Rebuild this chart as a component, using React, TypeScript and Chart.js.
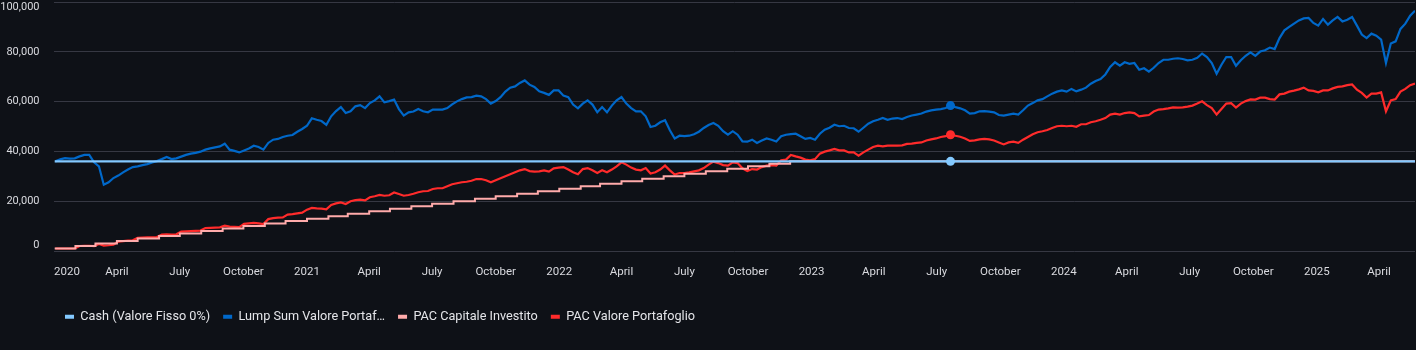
import { useEffect, useRef } from 'react';
import { Chart, registerables } from 'chart.js';

Chart.register(...registerables);

// Series names as shown in the legend
const SERIES_NAMES = [
  'Cash (Valore Fisso 0%)',
  'Lump Sum Valore Portaf…',
  'PAC Capitale Investito',
  'PAC Valore Portafoglio',
];
const SERIES_COLORS = ['#83c9ff', '#0068c9', '#ffabab', '#ff2b2b'];

// Weekly samples starting on this date (one value per week)
const WEEKLY_START = '2020-01-03';

// Lump Sum portfolio value, thousands of €
const LUMP_SUM_K = [
  36.0, 36.8, 37.3, 37.1, 37.2, 38.0, 38.6, 38.6, 35.6, 34.0, 26.6,
  27.6, 29.3, 30.3, 31.6, 32.7, 33.7, 34.0, 34.5, 34.9, 35.6,
  36.1, 36.9, 37.8, 36.9, 37.2, 37.9, 38.6, 39.1, 39.4, 39.9,
  40.7, 41.2, 41.6, 42.0, 43.1, 40.7, 40.2, 39.6, 40.4, 41.2,
  42.3, 41.8, 40.7, 43.4, 44.7, 45.0, 45.8, 46.3, 46.6, 47.9,
  49.0, 50.3, 53.3, 52.7, 52.2, 50.7, 54.1, 56.2, 57.8, 55.4,
  56.1, 58.1, 58.6, 57.4, 59.4, 60.5, 62.1, 59.7, 60.2, 60.8,
  57.0, 54.4, 55.7, 56.0, 57.0, 56.1, 55.7, 56.8, 56.8, 56.8,
  57.4, 58.9, 60.1, 61.0, 61.7, 61.8, 62.4, 62.1, 61.0, 59.2,
  60.2, 61.8, 64.0, 65.6, 66.1, 67.5, 68.5, 66.8, 65.9, 64.1,
  63.5, 62.7, 64.5, 64.5, 62.4, 61.8, 58.8, 57.3, 59.2, 60.5,
  58.8, 55.7, 57.8, 55.7, 58.4, 60.5, 61.8, 59.2, 57.4, 56.1,
  56.1, 54.1, 49.8, 50.3, 51.7, 52.5, 48.5, 45.2, 46.3, 46.1,
  46.3, 46.9, 47.9, 49.4, 50.6, 51.4, 50.3, 48.1, 46.7, 48.1,
  46.7, 44.0, 43.9, 44.7, 43.4, 44.4, 45.2, 44.7, 44.0, 46.1,
  46.7, 46.9, 47.1, 46.1, 45.0, 45.4, 44.7, 47.1, 48.7, 49.5,
  50.7, 50.1, 50.3, 49.4, 49.3, 47.9, 49.5, 51.1, 52.1, 52.7,
  53.4, 52.7, 53.2, 53.4, 53.0, 53.8, 54.4, 54.8, 55.2, 56.0,
  56.5, 56.8, 57.0, 57.4, 58.4, 57.8, 57.3, 56.5, 55.2, 55.4,
  56.1, 56.2, 56.0, 55.7, 54.6, 54.4, 54.8, 55.2, 54.8, 56.5,
  58.4, 59.4, 60.5, 61.0, 62.1, 63.2, 64.0, 64.5, 64.0, 65.1,
  64.1, 64.8, 65.6, 67.2, 68.3, 69.1, 70.9, 73.9, 75.8, 74.4,
  75.8, 75.2, 75.5, 72.8, 73.4, 72.0, 73.6, 75.5, 76.8, 76.8,
  77.2, 77.4, 77.1, 76.6, 76.8, 77.6, 79.3, 77.9, 75.5, 71.2,
  74.8, 77.9, 77.9, 74.4, 76.6, 78.4, 79.8, 78.4, 80.1, 80.6,
  81.7, 81.1, 85.5, 88.6, 90.0, 91.3, 92.6, 93.4, 93.6, 91.6,
  90.5, 93.2, 90.9, 92.6, 94.0, 92.2, 92.9, 94.0, 90.5, 86.9,
  85.5, 87.3, 86.5, 84.9, 75.5, 83.3, 84.2, 89.2, 91.3, 94.5, 96.5,
];

// PAC portfolio value, thousands of €
const PAC_VALUE_K = [
  1.0, 1.0, 1.0, 1.0, 1.0, 2.0, 2.1, 2.1, 2.0, 2.8, 2.2,
  2.3, 2.5, 3.8, 4.0, 4.2, 4.3, 5.3, 5.4, 5.5, 5.5,
  5.6, 6.6, 6.7, 6.6, 6.7, 7.8, 7.9, 8.0, 8.1, 8.2,
  9.2, 9.3, 9.4, 9.5, 10.2, 9.8, 9.7, 9.6, 10.9, 11.1,
  11.3, 11.1, 10.8, 12.8, 13.2, 13.4, 13.5, 14.6, 14.8, 15.1,
  15.4, 16.6, 17.3, 17.1, 17.0, 16.7, 18.5, 19.1, 19.5, 18.9,
  20.0, 20.4, 20.6, 20.3, 21.6, 22.0, 22.5, 22.2, 22.4, 23.5,
  22.9, 22.2, 22.5, 23.0, 23.6, 24.0, 24.1, 24.9, 25.2, 25.2,
  26.0, 26.8, 27.2, 27.6, 27.8, 28.2, 28.9, 28.9, 28.4, 27.6,
  28.4, 29.2, 30.0, 30.8, 31.6, 32.4, 32.9, 32.1, 31.9, 32.0,
  32.4, 31.9, 33.2, 33.5, 33.7, 32.7, 31.6, 30.8, 32.9, 33.3,
  32.4, 31.3, 32.4, 31.6, 32.7, 34.0, 35.6, 34.7, 33.5, 32.7,
  32.4, 33.3, 31.1, 31.6, 32.7, 34.3, 32.4, 30.7, 31.3, 31.3,
  31.6, 32.0, 32.4, 33.3, 34.7, 35.9, 35.3, 34.5, 34.3, 35.6,
  35.3, 33.2, 32.1, 32.9, 32.7, 33.7, 34.3, 34.5, 34.3, 36.4,
  36.7, 38.6, 38.0, 37.5, 36.7, 36.4, 36.9, 39.1, 39.9, 40.4,
  41.0, 40.4, 40.4, 39.6, 39.6, 38.3, 39.6, 40.7, 41.8, 42.3,
  42.0, 42.3, 42.3, 42.3, 42.4, 43.0, 43.1, 43.4, 43.6, 44.4,
  44.8, 45.2, 45.8, 46.1, 46.7, 46.3, 45.9, 45.2, 44.2, 44.4,
  44.8, 45.0, 44.8, 44.4, 43.6, 42.8, 43.6, 43.9, 43.4, 44.7,
  45.8, 46.9, 47.7, 48.1, 48.6, 49.4, 50.1, 50.3, 50.1, 50.3,
  49.9, 50.9, 50.9, 51.7, 52.1, 52.7, 53.4, 54.8, 55.2, 54.8,
  55.4, 55.7, 55.4, 54.1, 54.4, 54.6, 56.0, 56.8, 57.0, 57.3,
  57.7, 57.6, 57.7, 58.0, 58.4, 59.2, 60.1, 58.6, 57.4, 54.8,
  57.0, 59.2, 59.4, 57.6, 59.2, 60.2, 60.9, 60.8, 61.6, 61.6,
  61.0, 60.8, 62.9, 63.2, 64.0, 64.4, 64.9, 65.6, 64.5, 64.3,
  63.7, 64.5, 64.5, 65.3, 65.9, 66.1, 66.6, 66.9, 64.8, 63.5,
  61.6, 63.2, 63.2, 63.7, 56.1, 60.5, 61.0, 64.0, 65.1, 66.6, 67.2,
];

// PAC invested capital: monthly contributions (step line)
const PAC_DATES = [
  '2020-01-02', '2020-02-01', '2020-03-01', '2020-04-01', '2020-05-01', '2020-06-01',
  '2020-07-01', '2020-08-01', '2020-09-01', '2020-10-01', '2020-11-01', '2020-12-01',
  '2021-01-01', '2021-02-01', '2021-03-01', '2021-04-01', '2021-05-01', '2021-06-01',
  '2021-07-01', '2021-08-01', '2021-09-01', '2021-10-01', '2021-11-01', '2021-12-01',
  '2022-01-01', '2022-02-01', '2022-03-01', '2022-04-01', '2022-05-01', '2022-06-01',
  '2022-07-01', '2022-08-01', '2022-09-01', '2022-10-01', '2022-11-01', '2022-12-01',
  '2025-05-23',
];
const PAC_CAPITAL = [
  1000, 2000, 3000, 4000, 5000, 6000, 7000, 8000, 9000, 10000, 11000, 12000,
  13000, 14000, 15000, 16000, 17000, 18000, 19000, 20000, 21000, 22000, 23000, 24000,
  25000, 26000, 27000, 28000, 29000, 30000, 31000, 32000, 33000, 34000, 35000, 36000,
  36000,
];

// Cash held flat
const CASH_DATES = ['2020-01-02', '2023-07-21', '2025-05-23'];
const CASH_VALUES = [36000, 36000, 36000];

// Highlighted (hovered) date
const HOVER_DATE = '2023-07-21';

// Axis ticks
const X_MIN_DATE = '2020-01-01';
const X_MAX_DATE = '2025-05-23';
const X_TICK_DATES = [
  '2020-01-01', '2020-04-01', '2020-07-01', '2020-10-01',
  '2021-01-01', '2021-04-01', '2021-07-01', '2021-10-01',
  '2022-01-01', '2022-04-01', '2022-07-01', '2022-10-01',
  '2023-01-01', '2023-04-01', '2023-07-01', '2023-10-01',
  '2024-01-01', '2024-04-01', '2024-07-01', '2024-10-01',
  '2025-01-01', '2025-04-01',
];
const X_TICK_LABELS = [
  '2020', 'April', 'July', 'October',
  '2021', 'April', 'July', 'October',
  '2022', 'April', 'July', 'October',
  '2023', 'April', 'July', 'October',
  '2024', 'April', 'July', 'October',
  '2025', 'April',
];
const Y_TICKS = [0, 20000, 40000, 60000, 80000, 100000];

const DAY = 86400000;
const toT = (s: string) => Date.parse(s + 'T00:00:00Z');

export default function App() {
  const ref = useRef<HTMLCanvasElement | null>(null);

  useEffect(() => {
    const canvas = ref.current;
    if (!canvas) return;
    const start = toT(WEEKLY_START);
    const hoverT = toT(HOVER_DATE);
    const weekly = (arr: number[]) => arr.map((v, i) => ({ x: start + i * 7 * DAY, y: v * 1000 }));
    const xMin = toT(X_MIN_DATE);
    const xMax = toT(X_MAX_DATE);
    const tickVals = X_TICK_DATES.map(toT);
    const dummyTick = xMax - 25 * DAY;
    const labelMap = new Map<number, string>();
    tickVals.forEach((v, i) => labelMap.set(v, X_TICK_LABELS[i]));
    labelMap.set(dummyTick, '');

    const dotRadius = (ctx: any) => (ctx.raw && ctx.raw.x === hoverT ? 4.5 : 0);
    const font = 'Roboto, "Noto Sans", sans-serif';
    const textColor = '#d9dadf';

    const legendShift = {
      id: 'legendShift',
      afterLayout(chart: any) {
        const lg = chart.legend;
        if (lg) {
          lg.left = 52;
          lg.top = 297.5;
        }
      },
    };

    const chart = new Chart(canvas, {
      type: 'line',
      data: {
        datasets: [
          {
            label: SERIES_NAMES[0],
            data: CASH_DATES.map((d, i) => ({ x: toT(d), y: CASH_VALUES[i] })),
            borderColor: SERIES_COLORS[0],
            backgroundColor: SERIES_COLORS[0],
            borderWidth: 2.3,
            pointRadius: dotRadius,
            pointBorderWidth: 0,
            order: 0,
          },
          {
            label: SERIES_NAMES[1],
            data: weekly(LUMP_SUM_K),
            borderColor: SERIES_COLORS[1],
            backgroundColor: SERIES_COLORS[1],
            borderWidth: 2.2,
            pointRadius: dotRadius,
            pointBorderWidth: 0,
            order: 1,
          },
          {
            label: SERIES_NAMES[2],
            data: PAC_DATES.map((d, i) => ({ x: toT(d), y: PAC_CAPITAL[i] })),
            borderColor: SERIES_COLORS[2],
            backgroundColor: SERIES_COLORS[2],
            borderWidth: 2,
            stepped: true,
            pointRadius: 0,
            order: 2,
          },
          {
            label: SERIES_NAMES[3],
            data: weekly(PAC_VALUE_K),
            borderColor: SERIES_COLORS[3],
            backgroundColor: SERIES_COLORS[3],
            borderWidth: 2.2,
            pointRadius: dotRadius,
            pointBorderWidth: 0,
            order: 3,
          },
        ],
      },
      options: {
        animation: false,
        responsive: false,
        maintainAspectRatio: false,
        events: [],
        layout: { padding: { top: 2, right: 1, left: 0, bottom: 18.7 } },
        elements: { line: { tension: 0 } },
        plugins: {
          tooltip: { enabled: false },
          legend: {
            position: 'bottom',
            align: 'start',
            labels: {
              boxWidth: 9,
              boxHeight: 4,
              padding: 13,
              color: '#e4e5e9',
              font: { family: font, size: 12.7 },
              generateLabels: (c: any) =>
                c.data.datasets.map((ds: any, i: number) => ({
                  text: ds.label,
                  fillStyle: ds.borderColor,
                  strokeStyle: ds.borderColor,
                  lineWidth: 0,
                  hidden: false,
                  datasetIndex: i,
                  fontColor: '#e4e5e9',
                })),
            },
          },
        },
        scales: {
          x: {
            type: 'linear',
            min: xMin,
            max: xMax,
            grid: { display: false, drawTicks: false },
            border: { display: false },
            afterBuildTicks: (scale: any) => {
              scale.ticks = [...tickVals, dummyTick].map((v) => ({ value: v }));
            },
            afterFit: (scale: any) => {
              scale.height = 44.6;
              scale.paddingLeft = 0;
              scale.paddingRight = 0;
            },
            ticks: {
              autoSkip: false,
              maxRotation: 0,
              minRotation: 0,
              align: 'inner',
              padding: 14.5,
              color: textColor,
              font: { family: font, size: 11.5 },
              callback: (v: any) => labelMap.get(Number(v)) ?? '',
            },
          },
          y: {
            min: 0,
            max: 100000,
            grid: { color: '#363843', lineWidth: 1, drawTicks: false },
            border: { display: false },
            afterBuildTicks: (scale: any) => {
              scale.ticks = Y_TICKS.map((v) => ({ value: v }));
            },
            afterFit: (scale: any) => {
              scale.width = 54;
              scale.paddingTop = 0;
              scale.paddingBottom = 0;
            },
            ticks: {
              padding: 14.5,
              color: textColor,
              font: { family: font, size: 11, lineHeight: 1 },
              callback: (v: any) => {
                const s = Number(v).toLocaleString('en-US');
                if (Number(v) === 100000) return ['', s];
                if (Number(v) === 0) return [s, ''];
                return s;
              },
            },
          },
        },
      },
      plugins: [legendShift],
    } as any);

    return () => chart.destroy();
  }, []);

  return (
    <div
      style={{
        position: 'fixed',
        left: 0,
        top: 0,
        width: 1416,
        height: 350,
        background: '#0e1117',
      }}
    >
      <canvas ref={ref} width={1416} height={350} style={{ display: 'block' }} />
    </div>
  );
}
